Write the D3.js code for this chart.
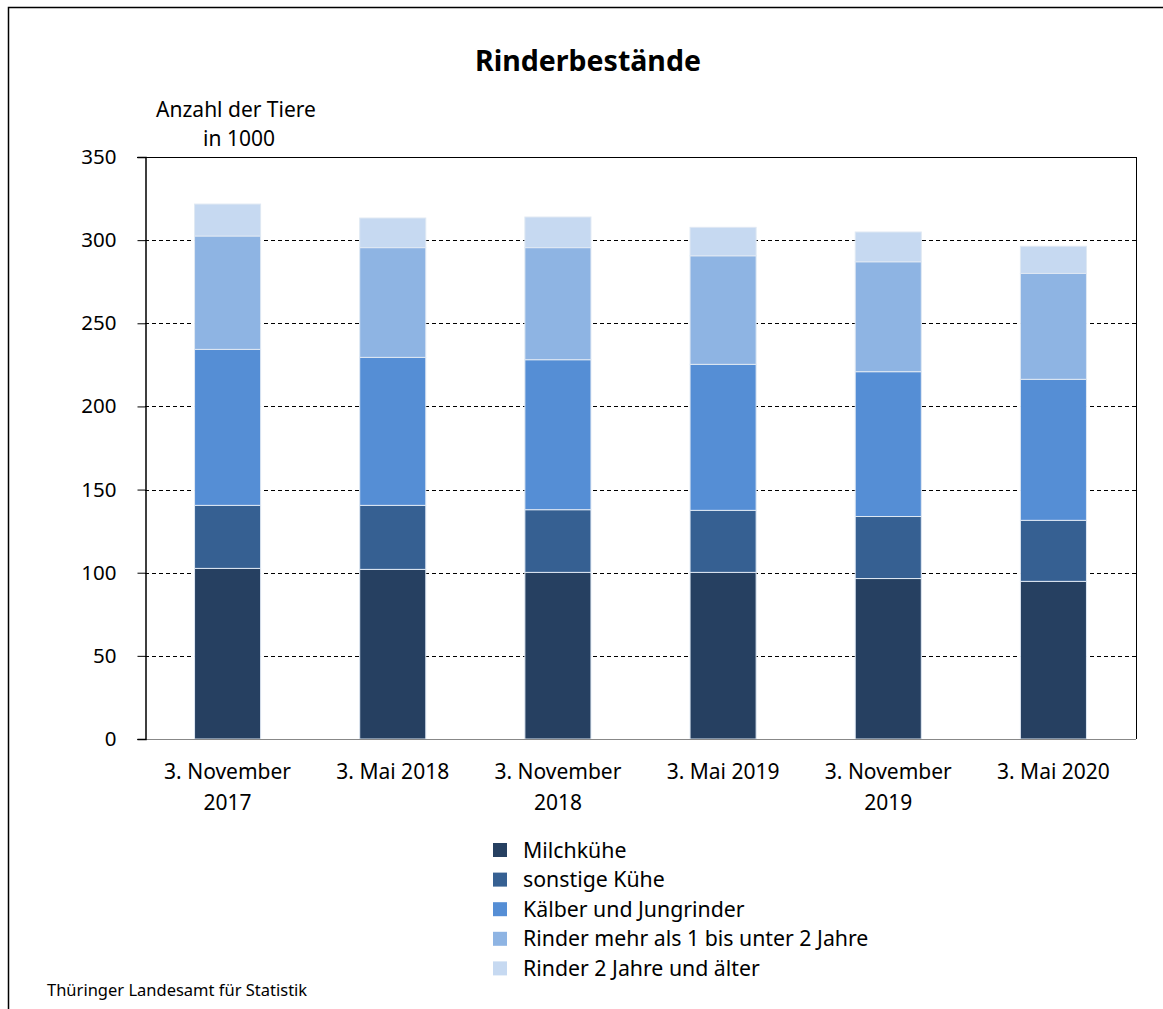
<!DOCTYPE html>
<html>
<head>
<meta charset="utf-8">
<script src="https://cdn.jsdelivr.net/npm/d3@7"></script>
<style>
html,body{margin:0;padding:0;background:#fff;}
svg{display:block;font-family:"Noto Sans",sans-serif;}
</style>
</head>
<body>
<svg id="chart" width="1163" height="1009"></svg>
<script>
const categories = [["3. November","2017"],["3. Mai 2018"],["3. November","2018"],["3. Mai 2019"],["3. November","2019"],["3. Mai 2020"]];
const seriesNames = ["Milchkühe","sonstige Kühe","Kälber und Jungrinder","Rinder mehr als 1 bis unter 2 Jahre","Rinder 2 Jahre und älter"];
const milchkuehe      = [102.6, 102.0, 100.2, 100.2, 96.5, 94.8];
const sonstigeKuehe   = [37.9, 38.5, 37.7, 37.3, 37.3, 36.7];
const kaelber         = [93.8, 89.0, 90.2, 87.8, 87.1, 84.8];
const rinder1bis2     = [68.2, 66.0, 67.4, 65.3, 66.1, 63.7];
const rinder2plus     = [19.2, 17.8, 18.4, 17.1, 17.9, 16.3];
const yTicks = [0,50,100,150,200,250,300,350];
const colors = ["#264061","#366092","#558ED5","#8EB4E3","#C6D9F1"];

const seriesValues = [milchkuehe, sonstigeKuehe, kaelber, rinder1bis2, rinder2plus];
const rows = categories.map((c,i)=>{
  const r = {key:i};
  seriesNames.forEach((s,j)=>r[s]=seriesValues[j][i]);
  return r;
});

const FONT = '"Noto Sans", sans-serif';
const svg = d3.select("#chart");
const L=145, R=1136, T=157, B=739;

// outer frame
svg.append("path").attr("d","M8.5,1009 V7.5 H1163").attr("fill","none").attr("stroke","#000").attr("stroke-width",1.5);

const x = d3.scaleBand().domain(d3.range(categories.length)).range([L,R]).paddingInner(0.6).paddingOuter(0.3);
const y = d3.scaleLinear().domain([0,350]).range([B,T]);

// gridlines
svg.append("g").selectAll("line").data(yTicks.filter(t=>t>0 && t<350)).join("line")
  .attr("x1",L).attr("x2",R).attr("y1",d=>Math.round(y(d))+0.5).attr("y2",d=>Math.round(y(d))+0.5)
  .attr("stroke","#000").attr("stroke-width",1).attr("stroke-dasharray","4,3");

// bars
const stack = d3.stack().keys(seriesNames)(rows);
svg.append("g").selectAll("g").data(stack).join("g")
  .attr("fill",(d,i)=>colors[i])
  .selectAll("rect").data(d=>d).join("rect")
  .attr("x",(d,i)=>x(i)).attr("width",x.bandwidth())
  .attr("y",d=>y(d[1])).attr("height",d=>y(d[0])-y(d[1]))
  .attr("stroke","#dfe8f3").attr("stroke-width",1);

// plot border (top, right) and axes
svg.append("line").attr("x1",L-8).attr("x2",R).attr("y1",T+0.5).attr("y2",T+0.5).attr("stroke","#000");
svg.append("line").attr("x1",R+0.5).attr("x2",R+0.5).attr("y1",T).attr("y2",B).attr("stroke","#000");
svg.append("line").attr("x1",L-8).attr("x2",R).attr("y1",B+0.5).attr("y2",B+0.5).attr("stroke","#888").attr("stroke-width",1.2);

const yAxis = d3.axisLeft(y).tickValues(yTicks).tickSize(8).tickPadding(21).tickFormat(d3.format("d"));
const gy = svg.append("g").attr("transform",`translate(${L+0.5},0)`).call(yAxis)
  .attr("font-family",FONT).attr("font-size",20.5);
gy.select(".domain").attr("stroke","#000").attr("stroke-width",1.5);
gy.selectAll(".tick line").attr("stroke","#000");
gy.selectAll(".tick text").attr("fill","#000");

// x labels
const gx = svg.append("g");
categories.forEach((lines,i)=>{
  const t = gx.append("text").attr("text-anchor","middle").attr("font-size",21).attr("fill","#000")
    .attr("x",x(i)+x.bandwidth()/2).attr("y",779);
  lines.forEach((ln,k)=>t.append("tspan").attr("x",x(i)+x.bandwidth()/2).attr("dy",k===0?0:31).text(ln));
});

// title
svg.append("text").attr("x",588).attr("y",71).attr("text-anchor","middle").attr("font-size",28.5).attr("font-weight","bold").text("Rinderbestände");
// y axis title
svg.append("text").attr("x",236).attr("y",117).attr("text-anchor","middle").attr("font-size",21).text("Anzahl der Tiere");
svg.append("text").attr("x",239).attr("y",146).attr("text-anchor","middle").attr("font-size",21).text("in 1000");

// legend
const lg = svg.append("g");
seriesNames.forEach((s,i)=>{
  const yy = 850 + i*29.6;
  lg.append("rect").attr("x",493).attr("y",yy-7).attr("width",14).attr("height",14).attr("fill",colors[i]);
  lg.append("text").attr("x",523).attr("y",yy+7.5).attr("font-size",21.3).text(s);
});

// footer
svg.append("text").attr("x",47).attr("y",996).attr("font-size",16.5).text("Thüringer Landesamt für Statistik");
</script>
</body>
</html>
